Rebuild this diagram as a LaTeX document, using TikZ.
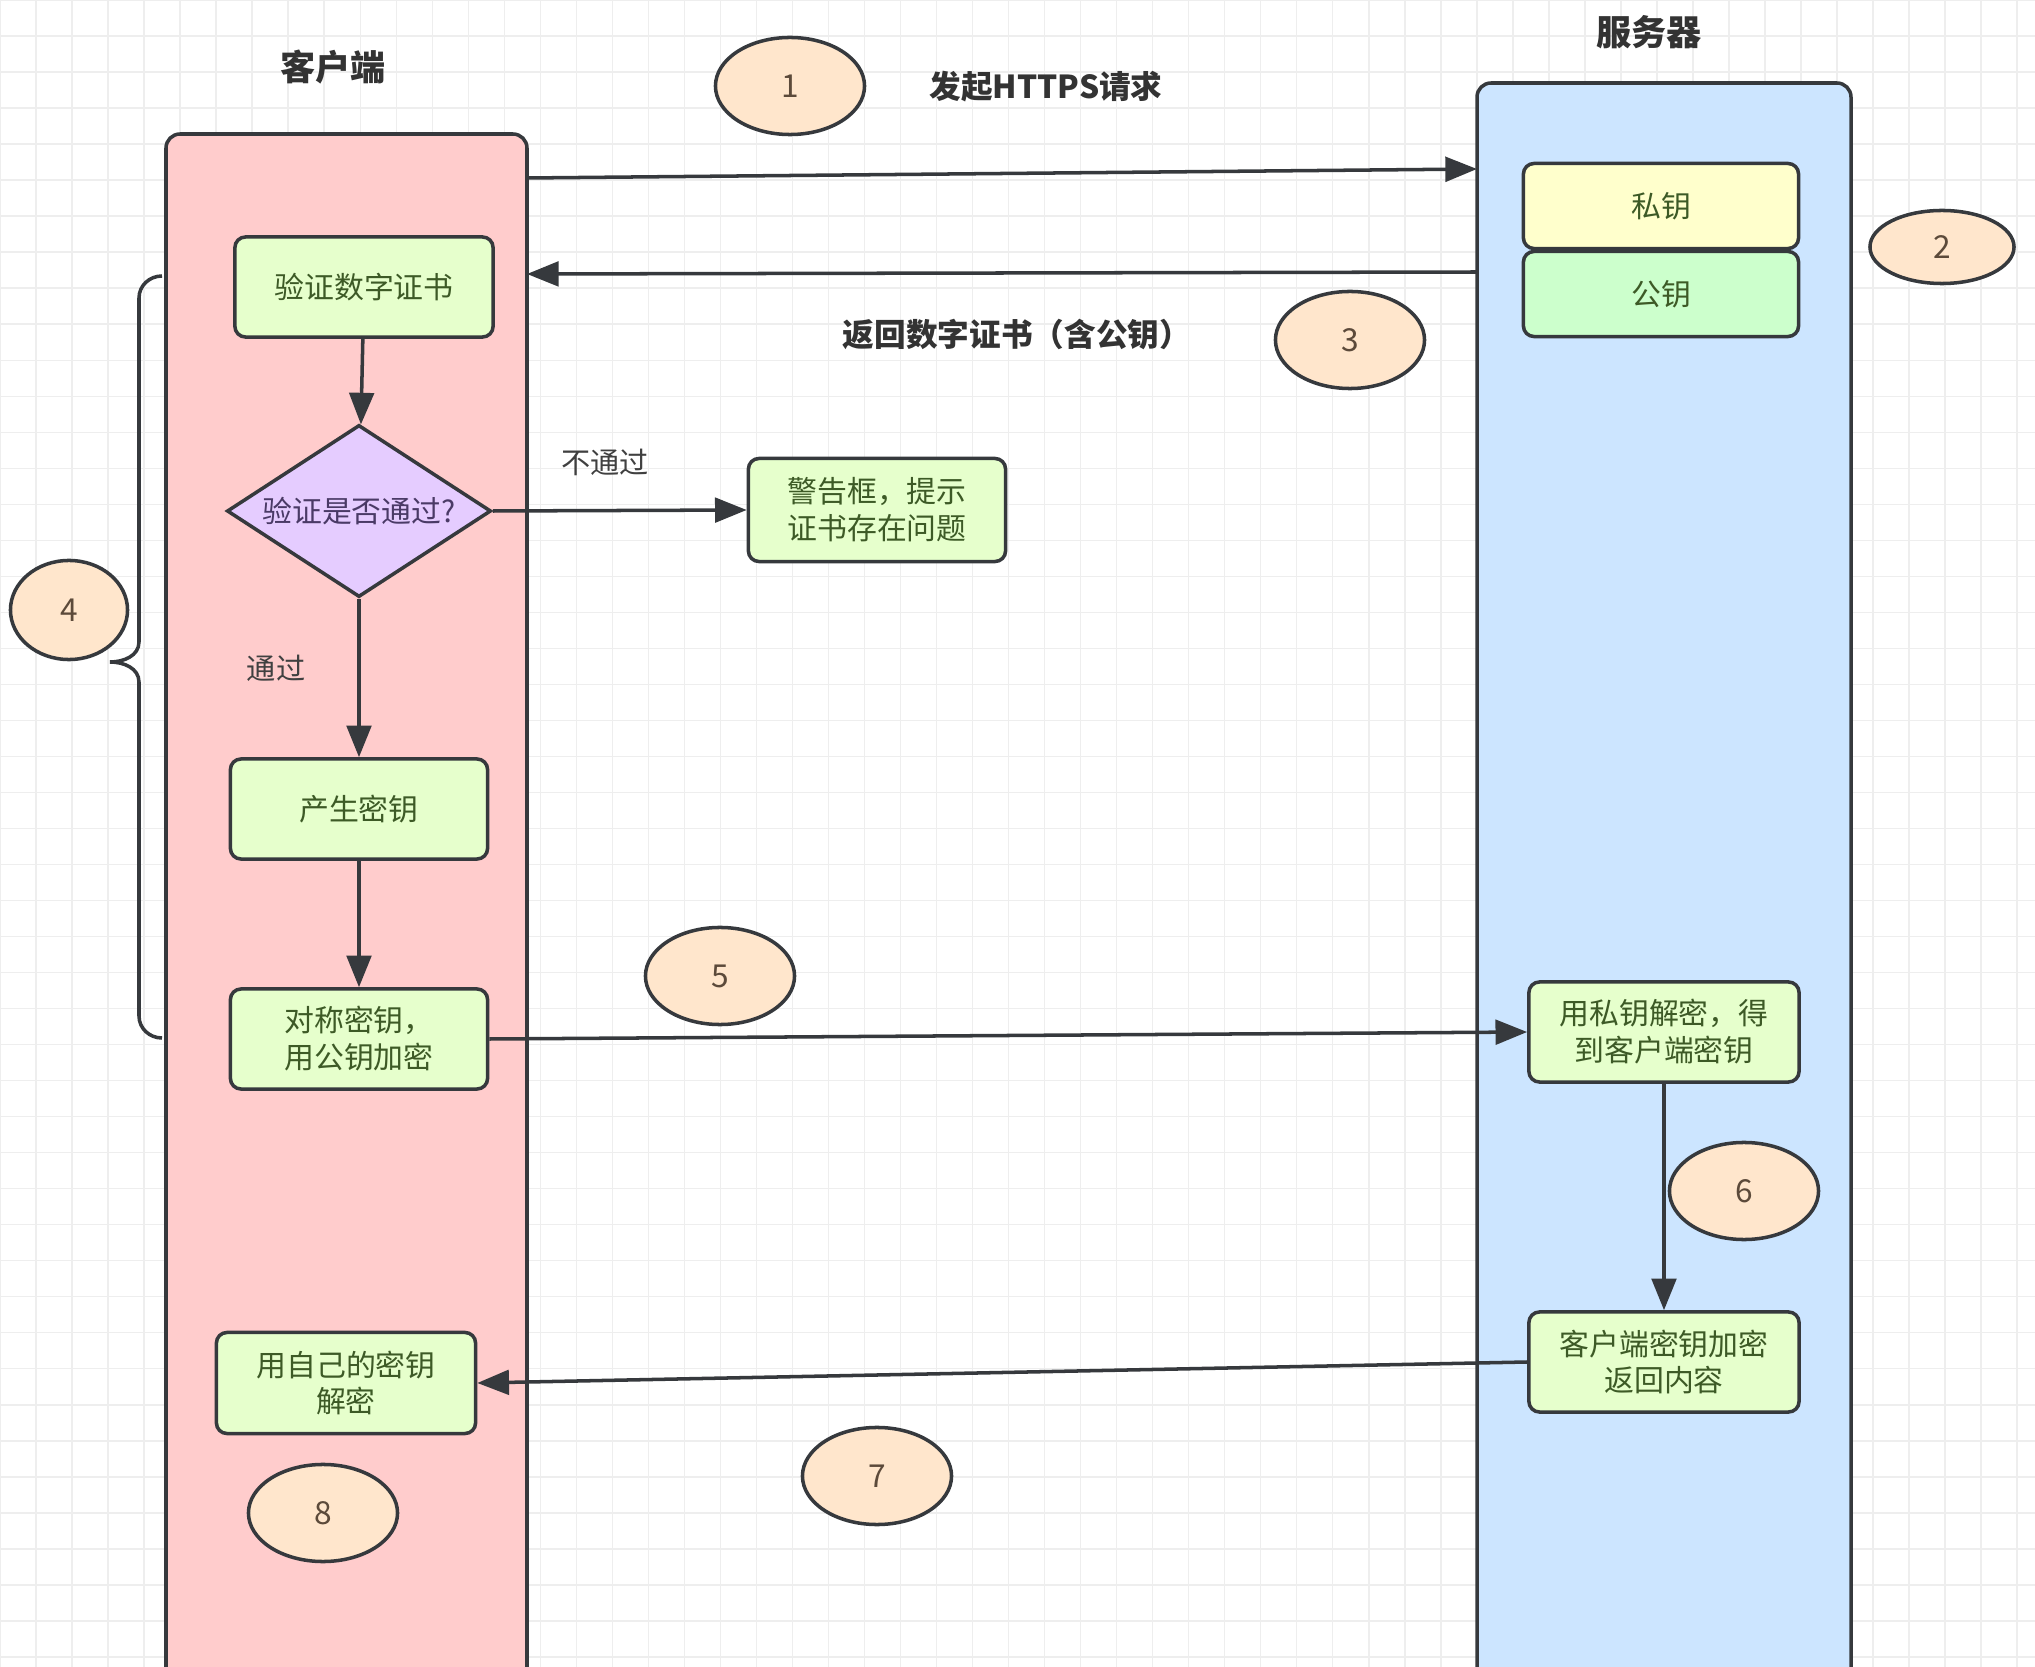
\documentclass[tikz,border=0pt]{standalone}
\usepackage{fontspec}
\setmainfont{Noto Sans CJK SC}
\usepackage{tikz}
\usetikzlibrary{positioning, arrows.meta, shapes.geometric}
\usepackage{xcolor}
\definecolor{clientfill}{HTML}{FFCCCC}
\definecolor{serverfill}{HTML}{CCE5FF}
\definecolor{stepfill}{HTML}{E6FFCC}
\definecolor{stepline}{HTML}{36393D}
\definecolor{steptext}{HTML}{3D5A26}
\definecolor{privfill}{HTML}{FFFFCC}
\definecolor{pubfill}{HTML}{CCFFCC}
\definecolor{askfill}{HTML}{E5CCFF}
\definecolor{asktext}{HTML}{4A3A66}
\definecolor{numfill}{HTML}{FFE6CC}
\definecolor{numtext}{HTML}{5C4A3A}
\definecolor{gridline}{HTML}{EEEEEE}

\begin{document}
\begin{tikzpicture}[x=0.01cm, y=-0.01cm,
    lane/.style={draw=stepline, line width=1pt, rounded corners=4pt},
    stepbox/.style={draw=stepline, fill=stepfill, line width=1pt, rounded corners=3pt,
        text=steptext, align=center, inner sep=0pt,
        font=\fontsize{8.5}{10.5}\selectfont},
    numtag/.style={ellipse, draw=stepline, fill=numfill, line width=1pt, text=numtext,
        inner sep=0pt, minimum width=1.49cm, minimum height=0.97cm,
        font=\fontsize{9}{10}\selectfont},
    lanetitle/.style={font=\bfseries\fontsize{10}{12}\selectfont, text=black!80},
    msg/.style={font=\bfseries\fontsize{9}{11}\selectfont, text=black!80},
    note/.style={font=\fontsize{8.3}{10}\selectfont, text=black!75},
    arr/.style={draw=stepline, line width=1pt, -{Triangle[length=9pt,width=7pt]}}
]
    % Canvas and grid
    \useasboundingbox (0,0) rectangle (2035,1667);
    \clip (0,0) rectangle (2035,1667);
    \fill[white] (0,0) rectangle (2035,1667);
    \draw[gridline, line width=0.4pt, step=0.36cm] (0,0) grid (2035,1667);

    % Swimlanes
    \draw[lane, fill=clientfill] (166,134) rectangle (527,1720);
    \draw[lane, fill=serverfill] (1477,83) rectangle (1851,1720);
    \node[lanetitle] (clienttitle) at (333,67) {客户端};
    \node[lanetitle] (servertitle) at (1649,32) {服务器};

    % Lane edges where the messages start and end
    \coordinate (reqout) at (527,178);
    \coordinate (reqin) at (1477,169);
    \coordinate (certout) at (1477,272);
    \coordinate (certin) at (527,274);

    % Server keys
    \node[draw=stepline, fill=privfill, line width=1pt, rounded corners=3pt, text=steptext,
        minimum width=2.75cm, minimum height=0.85cm, font=\fontsize{8.5}{12}\selectfont]
        (privkey) at (1661,206) {私钥};
    \node[draw=stepline, fill=pubfill, line width=1pt, rounded corners=3pt, text=steptext,
        minimum width=2.75cm, minimum height=0.85cm, font=\fontsize{8.5}{12}\selectfont]
        (pubkey) at (1661,294) {公钥};

    % Client steps
    \node[stepbox, minimum width=2.58cm, minimum height=1.0cm] (verify) at (364,287) {验证数字证书};
    \node[diamond, aspect=1.53, draw=stepline, fill=askfill, line width=1pt, inner sep=0pt,
        text=asktext, minimum width=2.64cm, minimum height=1.72cm,
        font=\fontsize{8.5}{12}\selectfont] (ask) at (359,511) {验证是否通过?};
    \node[stepbox, minimum width=2.57cm, minimum height=1.03cm] (warn) at (877,510) {警告框，提示\\证书存在问题};
    \node[stepbox, minimum width=2.57cm, minimum height=1.0cm] (genkey) at (359,809) {产生密钥};
    \node[stepbox, minimum width=2.57cm, minimum height=1.0cm] (symkey) at (359,1039) {对称密钥，\\用公钥加密};
    \node[stepbox, minimum width=2.59cm, minimum height=1.01cm] (owndec) at (346,1383) {用自己的密钥\\解密};

    % Server steps
    \node[stepbox, minimum width=2.7cm, minimum height=1.0cm] (srvdec) at (1664,1032) {用私钥解密，得\\到客户端密钥};
    \node[stepbox, minimum width=2.7cm, minimum height=1.0cm] (srvenc) at (1664,1362) {客户端密钥加密\\返回内容};

    % Messages between the lanes
    \draw[arr] (reqout) -- (reqin);
    \draw[arr] (certout) -- (certin);
    \node[msg] (reqlabel) at (1046,87) {发起HTTPS请求};
    \node[msg] (certlabel) at (1017,334) {返回数字证书（含公钥）};

    % Flow inside the client
    \draw[arr] (verify) -- (ask);
    \draw[arr] (ask.east) -- (warn.west);
    \draw[arr] (ask.south) -- (genkey.north);
    \draw[arr] (genkey) -- (symkey);
    \node[note] (fail) at (605,462) {不通过};
    \node[note] (pass) at (276,668) {通过};

    % Key exchange
    \draw[arr] (symkey.east) -- (srvdec.west);
    \draw[arr] (srvdec.south) -- (srvenc.north);
    \draw[arr] (srvenc.west) -- (owndec.east);

    % Brace over steps of the client
    \draw[stepline, line width=1pt] (162,276) to[out=180, in=90] (139,298) -- (139,642)
        to[out=-90, in=0] (110,662) to[out=0, in=90] (139,682) -- (139,1016)
        to[out=-90, in=180] (162,1038);

    % Step numbers
    \node[numtag] (n1) at (790,86) {1};
    \node[numtag, minimum width=1.44cm, minimum height=0.73cm] (n2) at (1942,247) {2};
    \node[numtag] (n3) at (1350,340) {3};
    \node[numtag, minimum width=1.17cm, minimum height=0.99cm] (n4) at (69,610) {4};
    \node[numtag] (n5) at (720,976) {5};
    \node[numtag] (n6) at (1744,1191) {6};
    \node[numtag] (n7) at (877,1476) {7};
    \node[numtag] (n8) at (323,1513) {8};
\end{tikzpicture}
\end{document}
